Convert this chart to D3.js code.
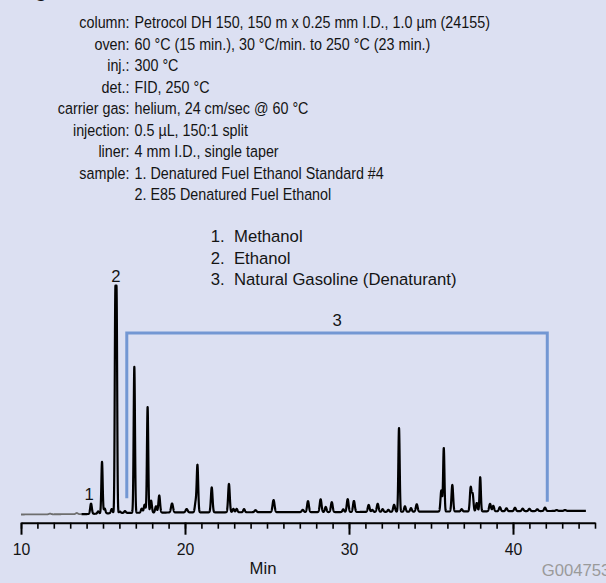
<!DOCTYPE html>
<html>
<head>
<meta charset="utf-8">
<script src="https://cdn.jsdelivr.net/npm/d3@7"></script>
<style>
  html, body { margin: 0; padding: 0; background: #dce0f2; }
  svg { display: block; font-family: "Liberation Sans", Arial, sans-serif; }
</style>
</head>
<body>
<script>
// run conditions
const condLabels = ["column:", "oven:", "inj.:", "det.:", "carrier gas:", "injection:", "liner:", "sample:", ""];
const condValues = [
  "Petrocol DH 150, 150 m x 0.25 mm I.D., 1.0 µm (24155)",
  "60 °C (15 min.), 30 °C/min. to 250 °C (23 min.)",
  "300 °C",
  "FID, 250 °C",
  "helium, 24 cm/sec @ 60 °C",
  "0.5 µL, 150:1 split",
  "4 mm I.D., single taper",
  "1. Denatured Fuel Ethanol Standard #4",
  "2. E85 Denatured Fuel Ethanol"
];

// peak identification
const compounds = ["Methanol", "Ethanol", "Natural Gasoline (Denaturant)"];

// chromatogram peaks: retention time (min), height (% of ethanol), sigma (min)
// ethanol is overloaded, so it is drawn as two close peaks (15.75 / 15.83)
const peakTimes = [11.77, 13.4, 14.27, 14.71, 14.94, 15.1, 15.53, 15.75, 15.83, 16.03, 16.34,
  16.91, 17.36, 17.54, 17.72, 17.93, 18.23, 18.43, 19.21, 20.1, 20.65,
  20.76, 21.63, 22.68, 22.95, 23.15, 23.6, 24.3, 25.4, 27.18, 27.5,
  28.27, 28.58, 28.95, 29.65, 29.92, 30.3, 31.2, 31.42, 31.75, 32.05,
  32.4, 32.75, 33.05, 33.41, 33.78, 34.13, 35.63, 35.78, 36.3, 36.87,
  37.42, 37.54, 37.79, 38.0, 38.6, 38.8, 39.2, 39.6, 40.12, 40.59,
  41.0, 41.48, 41.95, 42.66, 43.17];
const peakHeights = [0.3, 0.5, 4.6, 1.0, 23, 2.2, 1.8, 92.5, 92.5, 0.6, 0.8,
  65, 1.8, 3.6, 47, 5.4, 2.8, 7.6, 4.0, 1.5, 4.5,
  20.8, 11.1, 12.6, 1.5, 1.5, 1.4, 0.9, 5.4, 1.0, 4.9,
  5.7, 2.3, 4.4, 1.2, 5.7, 4.9, 3.1, 0.9, 3.6, 1.2,
  0.9, 3.1, 37.3, 2.4, 1.6, 3.3, 9.4, 28.2, 11.8, 1.0,
  10.5, 7.5, 3.7, 15.2, 3.3, 2.4, 1.8, 1.3, 1.5, 1.1,
  1.0, 0.8, 1.5, 0.4, 0.4];
const peakWidths = [0.06, 0.06, 0.05, 0.05, 0.04, 0.05, 0.05, 0.035, 0.035, 0.05, 0.05,
  0.04, 0.05, 0.05, 0.04, 0.05, 0.05, 0.05, 0.06, 0.06, 0.05,
  0.045, 0.05, 0.05, 0.05, 0.05, 0.05, 0.06, 0.06, 0.06, 0.055,
  0.055, 0.05, 0.055, 0.05, 0.055, 0.055, 0.055, 0.05, 0.055, 0.05,
  0.05, 0.055, 0.04, 0.05, 0.05, 0.055, 0.05, 0.04, 0.05, 0.05,
  0.05, 0.05, 0.05, 0.04, 0.055, 0.05, 0.055, 0.055, 0.055, 0.055,
  0.055, 0.055, 0.055, 0.06, 0.06];

// baseline drift (min, signal)
const driftTimes = [10, 14, 16, 20, 30, 44.45];
const driftValues = [0, 0.2, 0.7, 0.95, 1.1, 1.65];
const greyUntil = 13.7;

// peak 3 bracket (min / signal)
const bracketStart = 16.45, bracketEnd = 42.09;
const bracketTop = 80.8, bracketLeftBottom = 7.2, bracketRightBottom = 5.7;

const majorTicks = [10, 20, 30, 40];
const minorTicks = d3.range(10, 46, 1);

const width = 606, height = 583;

const svg = d3.select("body").append("svg")
  .attr("width", width)
  .attr("height", height);

const x = d3.scaleLinear().domain([10, 45]).range([21, 595]);
const y = d3.scaleLinear().domain([0, 100]).range([514.5, 290]);
const drift = d3.scaleLinear().domain(driftTimes).range(driftValues);

// cut-off figure title
svg.append("text")
  .attr("x", 35).attr("y", -3)
  .attr("font-size", 20).attr("font-weight", "bold")
  .attr("fill", "#111")
  .text("g");

// header: run conditions
const hdrFont = 17;
const header = svg.append("g").attr("fill", "#141414").attr("font-size", hdrFont);
const labelTexts = header.selectAll(".lbl")
  .data(condLabels)
  .join("text")
  .attr("class", "lbl")
  .attr("text-anchor", "end")
  .text(d => d);
const valueTexts = header.selectAll(".val")
  .data(condValues)
  .join("text")
  .attr("class", "val")
  .text(d => d);
const hdrScale = 355.5 / valueTexts.node().getComputedTextLength();
labelTexts.attr("transform", (d, i) => `translate(129.5,${28.3 + i * 21.5}) scale(${hdrScale},1)`);
valueTexts.attr("transform", (d, i) => `translate(134.5,${28.3 + i * 21.5}) scale(${hdrScale},1)`);

// legend of identified peaks
const legend = svg.append("g").attr("fill", "#141414").attr("font-size", hdrFont);
const legNames = legend.selectAll(".name")
  .data(compounds)
  .join("text")
  .attr("class", "name")
  .text(d => d);
const legScale = 222.7 / legNames.nodes()[2].getComputedTextLength();
legNames.attr("transform", (d, i) => `translate(234,${242 + i * 21.5}) scale(${legScale},1)`);
legend.selectAll(".num")
  .data(compounds)
  .join("text")
  .attr("class", "num")
  .attr("transform", (d, i) => `translate(210.7,${242 + i * 21.5}) scale(${legScale},1)`)
  .text((d, i) => `${i + 1}.`);

// chromatogram signal
const times = d3.range(10, 44.45, 0.005);
const signal = times.map(t => {
  let v = drift(t);
  for (let k = 0; k < peakTimes.length; k++) {
    const dt = (t - peakTimes[k]) / peakWidths[k];
    if (Math.abs(dt) < 6) v += peakHeights[k] * Math.exp(-0.5 * dt * dt);
  }
  return [t, v];
});

const line = d3.line().x(d => x(d[0])).y(d => y(d[1]));

svg.append("path")
  .datum(signal.filter(d => d[0] <= greyUntil))
  .attr("fill", "none")
  .attr("stroke", "#6e6e6e")
  .attr("stroke-width", 1.8)
  .attr("d", line);

svg.append("path")
  .datum(signal.filter(d => d[0] >= greyUntil - 0.01))
  .attr("fill", "none")
  .attr("stroke", "#000")
  .attr("stroke-width", 2.2)
  .attr("stroke-linejoin", "round")
  .attr("d", line);

// bracket for natural gasoline
svg.append("path")
  .attr("fill", "none")
  .attr("stroke", "#7397d3")
  .attr("stroke-width", 3)
  .attr("d", d3.line()([
    [x(bracketStart), y(bracketLeftBottom)],
    [x(bracketStart), y(bracketTop)],
    [x(bracketEnd), y(bracketTop)],
    [x(bracketEnd), y(bracketRightBottom)]
  ]));

// peak numbers
const peakLabels = [
  { t: 14.27, v: 6.5, s: "1" },
  { t: 15.79, v: 103.5, s: "2" },
  { t: (bracketStart + bracketEnd) / 2, v: 84, s: "3" }
];
svg.append("g")
  .attr("font-size", hdrFont)
  .attr("fill", "#141414")
  .attr("text-anchor", "middle")
  .selectAll("text")
  .data(peakLabels)
  .join("text")
  .attr("transform", d => `translate(${x(d.t) - (d.s === "1" ? 2 : 0)},${y(d.v)}) scale(${legScale},1)`)
  .text(d => d.s);

// time axis
const axisY = 522.7;
const minorAxis = svg.append("g")
  .attr("transform", `translate(0,${axisY})`)
  .call(d3.axisBottom(x).tickValues(minorTicks).tickSize(6).tickSizeOuter(0).tickFormat(""));
minorAxis.select(".domain").attr("stroke-width", 2).attr("stroke", "#000");
minorAxis.selectAll(".tick line").attr("stroke-width", 1.6).attr("stroke", "#000");

const majorAxis = svg.append("g")
  .attr("transform", `translate(0,${axisY})`)
  .call(d3.axisBottom(x).tickValues(majorTicks).tickSize(12).tickSizeOuter(0).tickPadding(8));
majorAxis.select(".domain").remove();
majorAxis.selectAll(".tick line").attr("stroke-width", 2).attr("stroke", "#000");
majorAxis.selectAll(".tick text")
  .attr("font-size", hdrFont)
  .attr("font-family", "Liberation Sans, Arial, sans-serif")
  .attr("fill", "#141414")
  .attr("transform", "scale(0.93,1)");

svg.append("text")
  .attr("transform", `translate(263,574) scale(${legScale},1)`)
  .attr("text-anchor", "middle")
  .attr("font-size", hdrFont)
  .attr("fill", "#141414")
  .text("Min");

svg.append("text")
  .attr("transform", `translate(541.7,576) scale(${legScale},1)`)
  .attr("font-size", hdrFont)
  .attr("fill", "#9a9a9a")
  .text("G004753");
</script>
</body>
</html>
